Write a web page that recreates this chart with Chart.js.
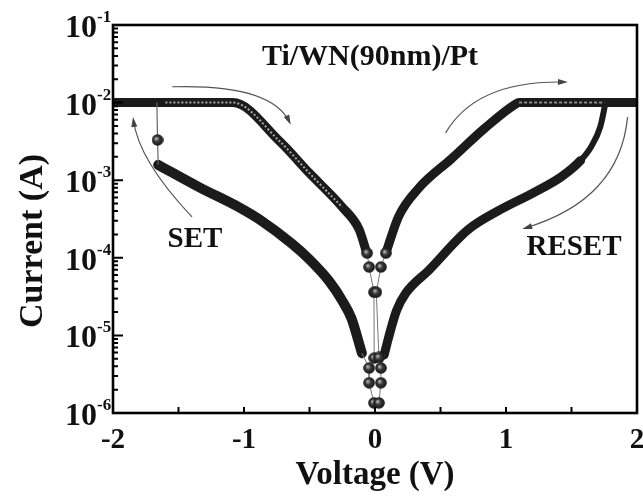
<!DOCTYPE html>
<html>
<head>
<meta charset="utf-8">
<script src="https://cdn.jsdelivr.net/npm/chart.js@4.4.0/dist/chart.umd.min.js"></script>
<style>
  body { margin: 0; background: #fff; }
  #ivChart { display: block; }
</style>
</head>
<body>
<canvas id="ivChart" width="643" height="499"></canvas>
<script>
// values: voltage (V) and current (A)
const hrsNegV = [-0.10, -0.18, -0.25, -0.35, -0.50, -0.63, -0.88, -1.03, -1.34, -1.655];
const hrsNegI = [5.9e-6, 1.66e-5, 2.8e-5, 5.0e-5, 9.5e-5, 1.5e-4, 3.1e-4, 4.4e-4, 8.1e-4, 1.58e-3];

const setJumpV = [-1.655, -1.66, -1.665];
const setJumpI = [1.58e-3, 3.3e-3, 1.0e-2];

const lrsNegV = [-2.0, -1.085, -0.73, -0.50, -0.25, -0.12, -0.07];
const lrsNegI = [1.0e-2, 1.0e-2, 3.2e-3, 1.23e-3, 4.5e-4, 2.3e-4, 1.26e-4];

const lrsPosV = [0.083, 0.18, 0.334, 0.585, 0.84, 1.07, 1.10, 2.0];
const lrsPosI = [1.15e-4, 3.4e-4, 7.9e-4, 1.9e-3, 4.7e-3, 9.5e-3, 1.0e-2, 1.0e-2];

const hrsPosV = [1.76, 1.72, 1.65, 1.57, 1.42, 1.21, 0.96, 0.71, 0.41, 0.235, 0.165, 0.10, 0.07];
const hrsPosI = [1.0e-2, 4.9e-3, 2.7e-3, 1.8e-3, 1.1e-3, 6.9e-4, 4.2e-4, 2.3e-4, 6.9e-5, 3.5e-5, 2.1e-5, 8.9e-6, 5.6e-6];

// single points around 0 V
const zeroUpV = [-0.07, -0.06, -0.045, -0.008, -0.006, 0.03, 0.01, 0.045, 0.083];
const zeroUpI = [1.26e-4, 1.15e-4, 7.6e-5, 3.6e-5, 5.1e-6, 5.2e-6, 3.6e-5, 7.6e-5, 1.15e-4];
const zeroLoV = [-0.10, -0.045, -0.045, -0.008, 0.03, 0.045, 0.045, 0.07];
const zeroLoI = [5.9e-6, 3.8e-6, 2.45e-6, 1.35e-6, 1.35e-6, 2.45e-6, 3.8e-6, 5.6e-6];

// lighter stripe on the low resistance parts
const glintNegV = [-1.60, -1.085, -0.73, -0.50, -0.25];
const glintNegI = [1.0e-2, 1.0e-2, 3.2e-3, 1.23e-3, 4.5e-4];
const glintPosV = [1.10, 1.75];
const glintPosI = [1.0e-2, 1.0e-2];

const xTicks = [-2, -1, 0, 1, 2];
const xMinorTicks = [-1.5, -0.5, 0.5, 1.5];
const yTicks = [1e-6, 1e-5, 1e-4, 1e-3, 1e-2, 1e-1];

// arrows: start, control, end (V, A)
const arrows = [
    [[-1.548, 1.6e-2], [-0.79, 1.74e-2], [-0.653, 5.6e-3]],
    [[-1.397, 3.36e-4], [-1.806, 1.82e-3], [-1.844, 5.97e-3]],
    [[0.539, 4.07e-3], [0.774, 1.95e-2], [1.45, 1.84e-2]],
    [[1.928, 6.5e-3], [1.867, 5.6e-4], [1.146, 2.42e-4]]
];

const serif = "'Liberation Serif', 'Times New Roman', serif";
const pts = (vs, is) => vs.map((v, i) => ({ x: v, y: is[i] }));

// shaded ball like the original markers
const ball = (() => {
    let c = document.createElement('canvas');
    c.width = c.height = 12;
    let g = c.getContext('2d');
    let grad = g.createRadialGradient(4.5, 4.5, 0.5, 6, 6, 6);
    grad.addColorStop(0, '#b5b5b5');
    grad.addColorStop(0.4, '#3a3a3a');
    grad.addColorStop(1, '#111');
    g.fillStyle = grad;
    g.beginPath();
    g.arc(6, 6, 5.8, 0, Math.PI * 2);
    g.fill();
    return c;
})();

const thick = (data, w) => ({
    data: data,
    showLine: true,
    borderColor: '#1b1b1b',
    borderWidth: w,
    borderJoinStyle: 'round',
    borderCapStyle: 'round',
    pointRadius: 0,
    cubicInterpolationMode: 'monotone'
});

const decor = {
    id: 'decor',
    beforeDraw(chart) {
        let ctx = chart.ctx;
        ctx.save();
        ctx.fillStyle = '#fff';
        ctx.fillRect(0, 0, chart.width, chart.height);
        ctx.restore();
    },
    afterDraw(chart) {
        let { ctx, chartArea: a, scales: { x, y } } = chart;
        ctx.save();

        // arrows
        ctx.strokeStyle = '#555';
        ctx.fillStyle = '#444';
        ctx.lineWidth = 1.2;
        arrows.forEach(([s, c, e]) => {
            let sx = x.getPixelForValue(s[0]), sy = y.getPixelForValue(s[1]);
            let cx = x.getPixelForValue(c[0]), cy = y.getPixelForValue(c[1]);
            let ex = x.getPixelForValue(e[0]), ey = y.getPixelForValue(e[1]);
            ctx.beginPath();
            ctx.moveTo(sx, sy);
            ctx.quadraticCurveTo(cx, cy, ex, ey);
            ctx.stroke();
            let ang = Math.atan2(ey - cy, ex - cx);
            ctx.beginPath();
            ctx.moveTo(ex + 3 * Math.cos(ang), ey + 3 * Math.sin(ang));
            ctx.lineTo(ex - 7 * Math.cos(ang) - 3 * Math.sin(ang), ey - 7 * Math.sin(ang) + 3 * Math.cos(ang));
            ctx.lineTo(ex - 7 * Math.cos(ang) + 3 * Math.sin(ang), ey - 7 * Math.sin(ang) - 3 * Math.cos(ang));
            ctx.closePath();
            ctx.fill();
        });

        // frame
        ctx.strokeStyle = '#000';
        ctx.lineWidth = 2.6;
        ctx.strokeRect(a.left, a.top, a.right - a.left, a.bottom - a.top);

        // inside ticks
        ctx.lineWidth = 2;
        ctx.beginPath();
        xTicks.concat(xMinorTicks).forEach(v => {
            let px = x.getPixelForValue(v);
            ctx.moveTo(px, a.bottom);
            ctx.lineTo(px, a.bottom - 6);
        });
        yTicks.forEach(v => {
            let py = y.getPixelForValue(v);
            ctx.moveTo(a.left, py);
            ctx.lineTo(a.left + 10, py);
            if (v < 0.1) {
                for (let m = 2; m <= 9; m++) {
                    let q = y.getPixelForValue(v * m);
                    ctx.moveTo(a.left, q);
                    ctx.lineTo(a.left + 5, q);
                }
            }
        });
        ctx.stroke();

        // y tick labels 10^n
        ctx.fillStyle = '#111';
        yTicks.forEach(v => {
            let py = y.getPixelForValue(v);
            let n = Math.round(Math.log10(v));
            ctx.font = 'bold 32px ' + serif;
            ctx.textAlign = 'right';
            ctx.textBaseline = 'alphabetic';
            ctx.fillText('10', 97, py + 12);
            ctx.font = 'bold 17px ' + serif;
            ctx.textAlign = 'left';
            ctx.fillText(String(n), 97, py - 3);
        });

        // y title
        ctx.save();
        ctx.translate(33, 241);
        ctx.rotate(-Math.PI / 2);
        ctx.font = 'bold 34px ' + serif;
        ctx.textAlign = 'center';
        ctx.textBaseline = 'middle';
        ctx.fillText('Current (A)', 0, 0);
        ctx.restore();

        // labels in the plot
        ctx.textAlign = 'center';
        ctx.textBaseline = 'middle';
        ctx.font = 'bold 30px ' + serif;
        ctx.fillText('Ti/WN(90nm)/Pt', 370, 57);
        ctx.font = 'bold 29px ' + serif;
        ctx.fillText('SET', 195, 240);
        ctx.fillText('RESET', 574, 248);
        ctx.restore();
    }
};

const ctx = document.getElementById('ivChart').getContext('2d');
const ivChart = new Chart(ctx, {
    type: 'scatter',
    data: {
        datasets: [
            {
                data: pts(zeroUpV, zeroUpI),
                showLine: true,
                borderColor: '#777',
                borderWidth: 1,
                pointStyle: ball,
                pointRadius: [0, 5, 5, 5, 5, 5, 5, 5, 5]
            },
            {
                data: pts(zeroLoV, zeroLoI),
                showLine: true,
                borderColor: '#777',
                borderWidth: 1,
                pointStyle: ball,
                pointRadius: [0, 5, 5, 5, 5, 5, 5, 0]
            },
            {
                data: pts(setJumpV, setJumpI),
                showLine: true,
                borderColor: '#666',
                borderWidth: 1.2,
                pointStyle: ball,
                pointRadius: [0, 5, 0]
            },
            {
                data: pts(glintNegV, glintNegI),
                showLine: true,
                borderColor: 'rgba(190,190,190,0.85)',
                borderWidth: 2,
                borderDash: [2, 2],
                pointRadius: 0,
                cubicInterpolationMode: 'monotone'
            },
            {
                data: pts(glintPosV, glintPosI),
                showLine: true,
                borderColor: 'rgba(170,170,170,0.8)',
                borderWidth: 2,
                borderDash: [3, 2],
                pointRadius: 0
            },
            thick(pts(hrsNegV, hrsNegI), 10),
            thick(pts(lrsNegV, lrsNegI), 9),
            thick(pts(lrsPosV, lrsPosI), 9),
            Object.assign(thick(pts(hrsPosV, hrsPosI), 9), {
                segment: { borderWidth: c => c.p0DataIndex < 3 ? 6 : 9 }
            })
        ]
    },
    options: {
        responsive: false,
        animation: false,
        layout: { padding: { top: 25, right: 3, left: 0, bottom: 0 } },
        plugins: {
            legend: { display: false },
            tooltip: { enabled: false }
        },
        scales: {
            x: {
                type: 'linear',
                min: -2,
                max: 2,
                grid: { display: false, drawTicks: false },
                border: { display: false },
                ticks: {
                    stepSize: 1,
                    padding: 10,
                    color: '#111',
                    font: { family: serif, size: 29, weight: 'bold' }
                },
                title: {
                    display: true,
                    text: 'Voltage (V)',
                    color: '#111',
                    font: { family: serif, size: 33, weight: 'bold' },
                    padding: { top: 0, bottom: 4 }
                },
                afterFit: s => { s.height = 86; s.paddingLeft = 0; s.paddingRight = 0; }
            },
            y: {
                type: 'logarithmic',
                min: 1e-6,
                max: 1e-1,
                grid: { display: false, drawTicks: false },
                border: { display: false },
                ticks: { display: false },
                afterBuildTicks: s => { s.ticks = yTicks.map(v => ({ value: v })); },
                afterFit: s => { s.width = 113; s.paddingTop = 0; s.paddingBottom = 0; }
            }
        }
    },
    plugins: [decor]
});
</script>
</body>
</html>
